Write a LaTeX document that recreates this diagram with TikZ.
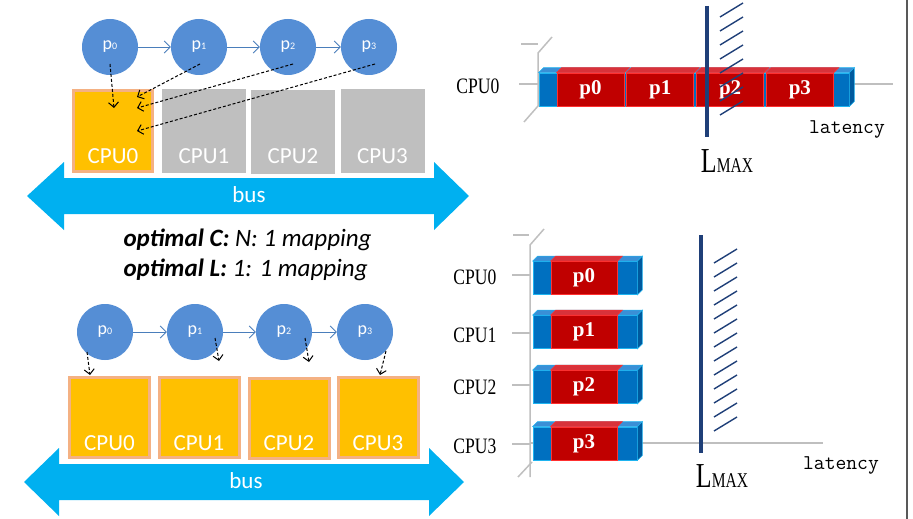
\documentclass[tikz,border=0pt]{standalone}
\usepackage{fontspec}
\usepackage{tikz}
\usetikzlibrary{shapes, arrows, arrows.meta, positioning}
\newfontfamily\calibri{Carlito}
\newfontfamily\simsun{Liberation Serif}

\definecolor{procblue}{HTML}{558ED5}
\definecolor{linkblue}{HTML}{4A7EBB}
\definecolor{cpuorange}{HTML}{FFC000}
\definecolor{cpuedge}{HTML}{F4B183}
\definecolor{cpugrey}{HTML}{BFBFBF}
\definecolor{busblue}{HTML}{00B0F0}
\definecolor{segred}{HTML}{C00000}
\definecolor{segtop}{HTML}{D8323A}
\definecolor{segedge}{HTML}{FF3030}
\definecolor{capblue}{HTML}{0070C0}
\definecolor{captop}{HTML}{3A8FD6}
\definecolor{capside}{HTML}{005A9E}
\definecolor{capedge}{HTML}{1FB4F0}
\definecolor{axisgrey}{HTML}{BFBFBF}
\definecolor{lmaxblue}{HTML}{1F3F78}

\tikzstyle{proc} = [circle, minimum size=56pt, inner sep=0pt, fill=procblue, text=white, font=\calibri\fontsize{18}{18}\selectfont]
\tikzstyle{cpubusy} = [rectangle, minimum width=79pt, minimum height=81pt, fill=cpuorange, draw=cpuedge, line width=3pt]
\tikzstyle{cpuidle} = [rectangle, minimum width=84pt, minimum height=84pt, fill=cpugrey]
\tikzstyle{cpuname} = [text=white, font=\calibri\fontsize{23}{23}\selectfont, anchor=south, yshift=6pt]
\tikzstyle{busname} = [text=white, font=\calibri\fontsize{23}{23}\selectfont]
\tikzstyle{link} = [-{Straight Barb[length=6pt, width=12pt]}, draw=linkblue, line width=0.9pt]
\tikzstyle{maparrow} = [-{Straight Barb[length=5pt, width=10pt]}, dash pattern=on 3pt off 2pt, line width=1pt]
\tikzstyle{bus} = [fill=busblue]
\tikzstyle{capbox} = [rectangle, minimum height=33pt, inner sep=0pt, fill=capblue, draw=capedge, line width=0.8pt]
\tikzstyle{segbox} = [rectangle, minimum width=67pt, minimum height=33pt, inner sep=0pt, fill=segred, draw=segedge, line width=0.8pt, text=white, font=\simsun\bfseries\fontsize{21}{21}\selectfont]
\tikzstyle{axis} = [draw=axisgrey, line width=1.5pt]
\tikzstyle{cpulabel} = [anchor=east, font=\simsun\fontsize{22}{22}\selectfont]
\tikzstyle{lmax} = [draw=lmaxblue, line width=3.8pt]
\tikzstyle{hatch} = [draw=lmaxblue, line width=1.4pt]
\tikzstyle{lmaxlabel} = [font=\simsun]
\tikzstyle{latency} = [font=\ttfamily\fontsize{21}{21}\selectfont]
\tikzstyle{caption} = [anchor=west, font=\calibri\fontsize{25}{25}\selectfont]

\newcommand{\topface}[2]{\fill[#2, draw=capedge, line width=0.6pt] (#1.north west) -- ++(5,-5) -- ([shift={(5,-5)}]#1.north east) -- (#1.north east) -- cycle;}
\newcommand{\sideface}[1]{\fill[capside, draw=capedge, line width=0.6pt] (#1.north east) -- ++(5,-5) -- ([shift={(5,-5)}]#1.south east) -- (#1.south east) -- cycle;}
\newcommand{\lmaxtext}{\scalebox{0.74}[1]{{\fontsize{35}{35}\selectfont L}{\fontsize{21}{21}\selectfont MAX}}}
\newcommand{\pname}[1]{\raisebox{-5pt}{p{\fontsize{10}{10}\selectfont #1}}}

\begin{document}
\begin{tikzpicture}[x=1pt, y=-1pt]
\useasboundingbox (0,0) rectangle (913,519);

% N:1 mapping
\node (p0) [proc] at (110,47) {\pname{0}};
\node (p1) [proc] at (199,47) {\pname{1}};
\node (p2) [proc] at (288,47) {\pname{2}};
\node (p3) [proc] at (369,47) {\pname{3}};
\draw [link] (p0) -- (p1);
\draw [link] (p1) -- (p2);
\draw [link] (p2) -- (p3);

\node (cpu0) [cpubusy] at (113,131) {};
\node (cpu1) [cpuidle] at (204,131) {};
\node (cpu2) [cpuidle] at (293,131.5) {};
\node (cpu3) [cpuidle] at (382.5,131) {};
\foreach \i in {0,...,3}
  \node (cpuname\i) [cpuname] at (cpu\i.south) {CPU\i};

\coordinate (m0) at (114,108);
\coordinate (m1) at (137,97);
\coordinate (m2) at (137,108);
\coordinate (m3) at (137,131);
\draw [maparrow] ([shift={(0,17)}]p0.center) -- (m0);
\draw [maparrow] ([shift={(1,17)}]p1.center) -- (m1);
\draw [maparrow] ([shift={(5,17)}]p2.center) -- (m2);
\draw [maparrow] ([shift={(6,17)}]p3.center) -- (m3);

\fill [bus] (27,196) -- (64,162) -- (64,178) -- (434,178) -- (434,162) -- (469,196) -- (434,230) -- (434,214) -- (64,214) -- (64,230) -- cycle;
\node (bustop) [busname] at (249,195) {bus};

% captions
\node (optC) [caption] at (120,240) {{\bfseries\itshape optimal C:} {\itshape N: 1 mapping}};
\node (optL) [caption] at (120,270) {{\bfseries\itshape optimal L:} {\itshape 1: 1 mapping}};

% 1:1 mapping
\node (q0) [proc] at (105,332) {\pname{0}};
\node (q1) [proc] at (195,332) {\pname{1}};
\node (q2) [proc] at (284,332) {\pname{2}};
\node (q3) [proc] at (365,332) {\pname{3}};
\draw [link] (q0) -- (q1);
\draw [link] (q1) -- (q2);
\draw [link] (q2) -- (q3);

\node (core0) [cpubusy, minimum width=80pt, minimum height=80pt] at (109.5,417.5) {};
\node (core1) [cpubusy, minimum width=80pt, minimum height=80pt] at (199,417.5) {};
\node (core2) [cpubusy, minimum width=80pt, minimum height=80pt] at (289,418) {};
\node (core3) [cpubusy, minimum width=80pt, minimum height=80pt] at (378,417.5) {};
\foreach \i in {0,...,3}
  \node (corename\i) [cpuname, yshift=-1pt] at (core\i.south) {CPU\i};

\coordinate (n0) at (90,375);
\coordinate (n1) at (219,361);
\coordinate (n2) at (309,362);
\coordinate (n3) at (380,375);
\draw [maparrow] ([shift={(-18,20)}]q0.center) -- (n0);
\draw [maparrow] ([shift={(20,6)}]q1.center) -- (n1);
\draw [maparrow] ([shift={(21,6)}]q2.center) -- (n2);
\draw [maparrow] ([shift={(21,19)}]q3.center) -- (n3);

\fill [bus] (24,482) -- (59,448) -- (59,464) -- (429,464) -- (429,448) -- (464,482) -- (429,516) -- (429,500) -- (59,500) -- (59,516) -- cycle;
\node (busbottom) [busname] at (246,481) {bus};

% latency chart, one CPU
\draw [axis] (521,44) -- (538,44);
\draw [axis] (552,37) -- (538,53) -- (538,106) -- (524,122);
\draw [axis] (519,84) -- (893,84);
\node (bar0) [capbox, minimum width=310pt] at (694,89.5) {};
\topface{bar0}{captop}
\sideface{bar0}
\node (s0) [segbox] at (590.5,89.5) {p0};
\node (s1) [segbox, right=2pt of s0] {p1};
\node (s2) [segbox, right=2pt of s1] {p2};
\node (s3) [segbox, right=2pt of s2] {p3};
\foreach \i in {0,...,3} {
  \fill [segtop, draw=segedge, line width=0.6pt] (s\i.north west) -- ++(5,-5) -- ([shift={(5,-5)}]s\i.north east) -- (s\i.north east) -- cycle;
}
\node (cpu0label) [cpulabel] at (503,86) {\scalebox{0.8}[1]{CPU0}};
\draw [lmax] (707,6) -- (707,137);
\foreach \k in {0,...,7}
  \draw [hatch] (720,{17+14*\k}) -- (743,{3+14*\k});
\node (lmaxtop) [lmaxlabel] at (727,161) {\lmaxtext};
\node (lattop) [latency] at (847,129) {latency};

% latency chart, four CPUs
\draw [axis] (513,235) -- (529,235);
\draw [axis] (544,229) -- (530,245) -- (530,477);
\draw [axis] (532,462) -- (518,477);
\draw [axis] (530,443) -- (823,443);
\foreach \r/\y/\t in {0/278/275, 1/332/333, 2/387/385, 3/443.5/444} {
  \draw [axis] (512,\t) -- (530,\t);
  \node (row\r) [capbox, minimum width=104pt] at (585,\y) {};
  \topface{row\r}{captop}
  \sideface{row\r}
  \node (r\r) [segbox, minimum width=66pt] at (584,\y) {p\r};
  \fill [segtop, draw=segedge, line width=0.6pt] (r\r.north west) -- ++(5,-5) -- ([shift={(5,-5)}]r\r.north east) -- (r\r.north east) -- cycle;
  \node (cpu\r label) [cpulabel] at (500,\t+2) {\scalebox{0.8}[1]{CPU\r}};
}
\draw [lmax] (701,235) -- (701,453);
\foreach \k in {0,...,12}
  \draw [hatch] (714,{263+14*\k}) -- (737,{249+14*\k});
\node (lmaxbottom) [lmaxlabel] at (722,476) {\lmaxtext};
\node (latbottom) [latency] at (841,465) {latency};

\draw [line width=2pt, draw=black!65] (907,0) -- (907,519);
\end{tikzpicture}
\end{document}
